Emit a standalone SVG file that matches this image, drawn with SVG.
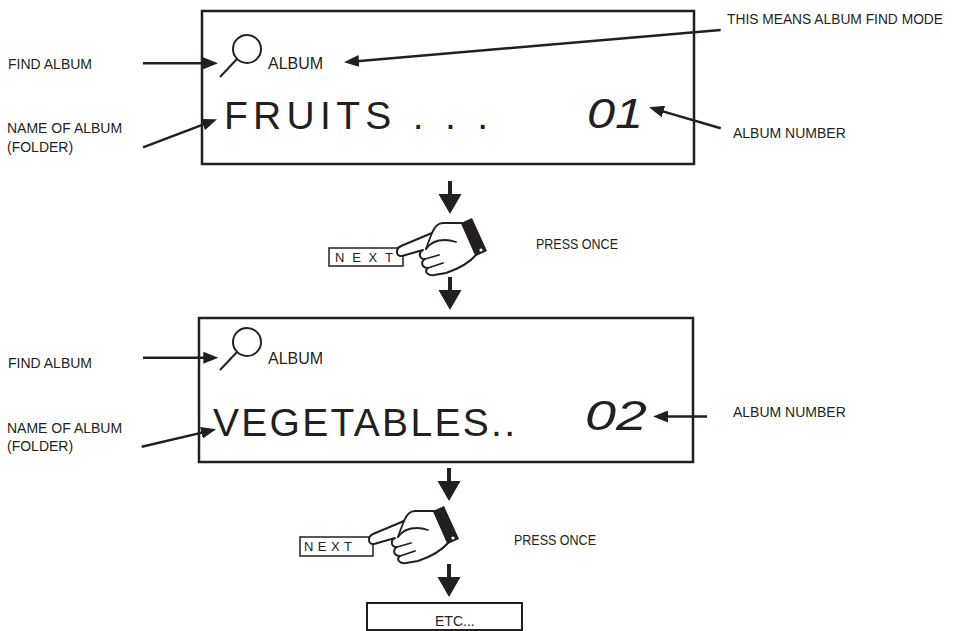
<svg xmlns="http://www.w3.org/2000/svg" xmlns:xlink="http://www.w3.org/1999/xlink" width="954" height="631" viewBox="0 0 954 631">
<style>
  .lbl { font-family: "Liberation Sans", Arial, sans-serif; font-size: 14px; fill: #231f20; }
  .small { font-family: "Liberation Sans", Arial, sans-serif; font-size: 16px; fill: #231f20; }
  .big { font-family: "Liberation Sans", Arial, sans-serif; font-size: 39px; fill: #231f20; }
  .num { font-family: "Liberation Sans", Arial, sans-serif; font-size: 43px; font-style: italic; fill: #231f20; }
  .next { font-family: "Liberation Sans", Arial, sans-serif; font-size: 13px; fill: #231f20; }
  .box { fill: #ffffff; stroke: #231f20; stroke-width: 2.5; }
  .conn { stroke: #231f20; stroke-width: 2.5; fill: none; marker-end: url(#ah); }
  .mag { fill: none; stroke: #231f20; stroke-width: 2; }
  .hand { fill: #ffffff; stroke: #231f20; stroke-width: 2; stroke-linejoin: round; stroke-linecap: round; }
  .handline { fill: none; stroke: #231f20; stroke-width: 1.8; stroke-linecap: round; }
  .nextbox { fill: #ffffff; stroke: #231f20; stroke-width: 1.5; }
</style>
<defs>
  <marker id="ah" markerUnits="userSpaceOnUse" markerWidth="16" markerHeight="12" refX="5" refY="6" orient="auto">
    <path d="M0,0 L15,6 L0,12 Z" fill="#231f20"/>
  </marker>
  <g id="downArrow">
    <rect x="-2" y="0" width="4" height="14" fill="#231f20"/>
    <polygon points="-11.5,13 11.5,13 0,33" fill="#231f20"/>
  </g>
  <g id="magnifier">
    <circle cx="0" cy="0" r="14" class="mag"/>
    <line x1="-10" y1="10" x2="-27" y2="28" class="mag"/>
  </g>
  <g id="handShape">
    <path class="hand" d="M462,223 L443,223 C437,223 434,228 432,233 L401,246 C395,249 396,257 402,256 L423,250 C418,253 419,259 425,259 C420,262 422,268 428,268 C424,271 427,276 434,275 L446,273 C458,269 470,262 476,255 Z"/>
    <path class="handline" d="M426,249 C430,243 436,240 445,240 C450,240 453,241 456,242"/>
    <path class="handline" d="M425,259 L439,255"/>
    <path class="handline" d="M428,268 L443,263"/>
    <path class="handline" d="M432,233 C430,238 428,243 426,249"/>
    <polygon points="461,223 472,218 487,251 476,256" fill="#231f20"/>
    <circle cx="481" cy="250" r="1.6" fill="#ffffff"/>
  </g>
</defs>

<g id="display1">
  <rect class="box" x="202" y="11" width="492" height="153"/>
  <use xlink:href="#magnifier" href="#magnifier" x="247" y="49"/>
  <text class="small" x="268" y="69">ALBUM</text>
  <text class="big" x="224" y="129" textLength="264" lengthAdjust="spacing">FRUITS . . .</text>
  <text class="num" x="587" y="128" textLength="56" lengthAdjust="spacingAndGlyphs">01</text>
</g>

<g id="display2">
  <rect class="box" x="199" y="318" width="494" height="144"/>
  <use xlink:href="#magnifier" href="#magnifier" x="247" y="342"/>
  <text class="small" x="268" y="364">ALBUM</text>
  <text class="big" x="213" y="436" textLength="302" lengthAdjust="spacing">VEGETABLES..</text>
  <text class="num" x="585" y="430" textLength="62" lengthAdjust="spacingAndGlyphs">02</text>
</g>

<g id="labels">
  <text class="lbl" x="8" y="69">FIND ALBUM</text>
  <text class="lbl" x="7" y="133">NAME OF ALBUM</text>
  <text class="lbl" x="7" y="152">(FOLDER)</text>
  <text class="lbl" x="727" y="24" textLength="216" lengthAdjust="spacingAndGlyphs">THIS MEANS ALBUM FIND MODE</text>
  <text class="lbl" x="733" y="138">ALBUM NUMBER</text>
  <text class="lbl" x="8" y="368">FIND ALBUM</text>
  <text class="lbl" x="7" y="433">NAME OF ALBUM</text>
  <text class="lbl" x="7" y="451">(FOLDER)</text>
  <text class="lbl" x="733" y="417">ALBUM NUMBER</text>
  <text class="lbl" x="536" y="249" textLength="82" lengthAdjust="spacingAndGlyphs">PRESS ONCE</text>
  <text class="lbl" x="514" y="545" textLength="82" lengthAdjust="spacingAndGlyphs">PRESS ONCE</text>
</g>

<g id="press1">
  <rect class="nextbox" x="329" y="248" width="74" height="18"/>
  <text class="next" x="335" y="262" textLength="58" lengthAdjust="spacing">NEXT</text>
  <use xlink:href="#handShape" href="#handShape"/>
</g>

<g id="press2">
  <rect class="nextbox" x="300" y="537" width="73" height="19"/>
  <text class="next" x="304" y="551" textLength="48" lengthAdjust="spacing">NEXT</text>
  <use xlink:href="#handShape" href="#handShape" transform="translate(-28,288)"/>
</g>

<g id="etc">
  <rect x="367" y="603" width="155" height="27" fill="#ffffff" stroke="#231f20" stroke-width="2"/>
  <text class="lbl" x="435" y="626">ETC...</text>
</g>

<g id="connectors">
  <line class="conn" x1="143" y1="63.3" x2="208" y2="63.3"/>
  <line class="conn" x1="143" y1="147.3" x2="207.6" y2="122.8"/>
  <line class="conn" x1="720.7" y1="30" x2="354" y2="61.45"/>
  <line class="conn" x1="720.7" y1="128.3" x2="658.6" y2="110.1"/>
  <line class="conn" x1="143" y1="357.7" x2="208.3" y2="357.7"/>
  <line class="conn" x1="141.7" y1="446.7" x2="206.3" y2="431.6"/>
  <line class="conn" x1="707" y1="416.5" x2="663" y2="416.5"/>
  <use xlink:href="#downArrow" href="#downArrow" x="450" y="181"/>
  <use xlink:href="#downArrow" href="#downArrow" x="450" y="277"/>
  <use xlink:href="#downArrow" href="#downArrow" x="449" y="468"/>
  <use xlink:href="#downArrow" href="#downArrow" x="449" y="564"/>
</g>
</svg>
